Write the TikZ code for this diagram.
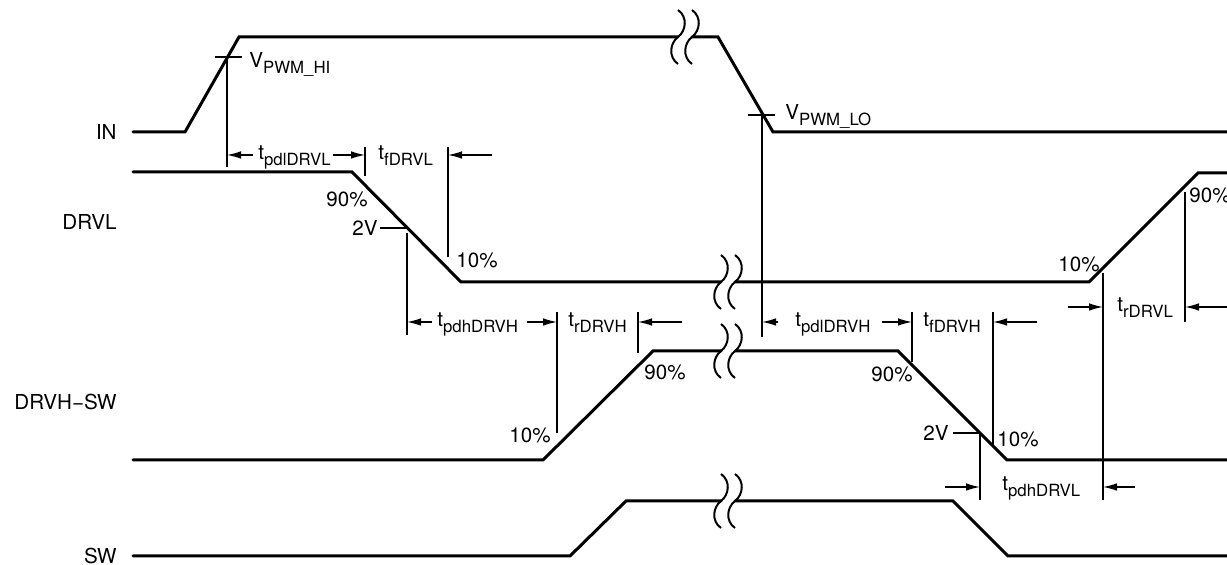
\documentclass[tikz,border=0pt]{standalone}
\usepackage{fontspec}
\setmainfont{TeX Gyre Heros}
\usetikzlibrary{arrows.meta}
\newcommand\sbs[1]{\raisebox{-2.6pt}{\fontsize{8.4}{8.4}\selectfont #1}}
\begin{document}
\begin{tikzpicture}[x=0.5pt,y=-0.5pt,
  font=\fontsize{10.3}{12}\selectfont,
  sig/.style={line width=1.5pt, line join=miter, line cap=round},
  thinln/.style={line width=0.65pt},
  dimarr/.style={line width=0.65pt, -{Latex[length=7pt,width=3.8pt]}},
  lbl/.style={inner sep=0pt},
  brkln/.style={line width=1pt},
  brkpic/.pic={
    \draw[brkln] (-7,-27) .. controls (3,-20) and (1,-6) .. (-7,0) .. controls (-15,6) and (-17,20) .. (-7,27);
    \draw[brkln] (7,-27) .. controls (17,-20) and (15,-6) .. (7,0) .. controls (-1,6) and (-3,20) .. (7,27);
  }]
\useasboundingbox (0,0) rectangle (1227,565);

% ---------- signal names ----------
\node[lbl, anchor=east] (lIN)   at (117,132) {IN};
\node[lbl, anchor=east] (lDRVL) at (117,222) {DRVL};
\node[lbl, anchor=east] (lDRVH) at (117,402) {DRVH−SW};
\node[lbl, anchor=east] (lSW)   at (117,556) {SW};

% ---------- waveforms ----------
% IN
\draw[sig] (133,132) -- (185,132) -- (239,37) -- (678,37);
\draw[sig] (692,37) -- (718,37) -- (773,132) -- (1230,132);
\pic at (685,37) {brkpic};
% DRVL
\draw[sig] (133,172) -- (352,172) -- (461,282) -- (721,282);
\draw[sig] (735,282) -- (1089,282) -- (1198,173) -- (1230,173);
\pic at (728,282) {brkpic};
% DRVH-SW
\draw[sig] (133,460) -- (543,460) -- (653,351) -- (721,351);
\draw[sig] (735,351) -- (898,351) -- (1007,460) -- (1230,460);
\pic at (728,351) {brkpic};
% SW
\draw[sig] (133,556) -- (570,556) -- (626,501) -- (721,501);
\draw[sig] (735,501) -- (953,501) -- (1008,556) -- (1230,556);
\pic at (728,501) {brkpic};

% ---------- threshold ticks and reference lines ----------
\draw[thinln] (215,57) -- (242,57);
\draw[thinln] (227,57) -- (227,167);
\node[lbl, anchor=base west] (vhi) at (249,68) {V\sbs{PWM\_HI}};

\draw[thinln] (748,115) -- (775,115);
\draw[thinln] (762,115) -- (762,337);
\node[lbl, anchor=base west] (vlo) at (785,120) {V\sbs{PWM\_LO}};

\draw[thinln] (365,147) -- (365,176);
\draw[thinln] (448,147) -- (448,257);
\draw[thinln] (380,228) -- (407,228);
\draw[thinln] (407,233) -- (407,335);
\draw[thinln] (557,312) -- (557,433);
\draw[thinln] (638,312) -- (638,353);
\draw[thinln] (912,312) -- (912,362);
\draw[thinln] (993,312) -- (993,445);
\draw[thinln] (953,433) -- (980,433);
\draw[thinln] (980,433) -- (980,500);
\draw[thinln] (1103,273) -- (1103,500);
\draw[thinln] (1185,192) -- (1185,322);

% ---------- level labels ----------
\node[lbl] (p90a) at (347,199) {90\%};
\node[lbl] (v2a)  at (365,228) {2V};
\node[lbl] (p10a) at (477,260) {10\%};
\node[lbl] (p10b) at (530,435) {10\%};
\node[lbl] (p90b) at (665,372) {90\%};
\node[lbl] (p90c) at (892,374) {90\%};
\node[lbl] (v2b)  at (936,433) {2V};
\node[lbl] (p10c) at (1018,439) {10\%};
\node[lbl] (p10d) at (1079,264) {10\%};
\node[lbl, anchor=west] (p90d) at (1189,195) {90\%};

% ---------- timing labels ----------
\node[lbl, anchor=base west] (tpdlDRVL) at (258,160) {t\sbs{pdlDRVL}};
\node[lbl, anchor=base west] (tfDRVL)   at (378,160) {t\sbs{fDRVL}};
\node[lbl, anchor=base west] (tpdhDRVH) at (437,327) {t\sbs{pdhDRVH}};
\node[lbl, anchor=base west] (trDRVH)   at (568,327) {t\sbs{rDRVH}};
\node[lbl, anchor=base west] (tpdlDRVH) at (795,327) {t\sbs{pdlDRVH}};
\node[lbl, anchor=base west] (tfDRVH)   at (923,327) {t\sbs{fDRVH}};
\node[lbl, anchor=base west] (tpdhDRVL) at (1002,491) {t\sbs{pdhDRVL}};
\node[lbl, anchor=base west] (trDRVL)   at (1117,312) {t\sbs{rDRVL}};

% ---------- dimension arrows ----------
\draw[dimarr] (253,155) -- (227,155);
\draw[dimarr] (333,155) -- (365,155);
\draw[dimarr] (492,155) -- (448,155);

\draw[dimarr] (432,322) -- (407,322);
\draw[dimarr] (527,322) -- (557,322);
\draw[dimarr] (682,322) -- (638,322);

\draw[dimarr] (778,322) -- (762,322);
\draw[dimarr] (882,322) -- (912,322);
\draw[dimarr] (1037,322) -- (993,322);

\draw[dimarr] (945,487) -- (980,487);
\draw[dimarr] (1135,487) -- (1103,487);

\draw[dimarr] (1068,307) -- (1103,307);
\draw[dimarr] (1230,307) -- (1185,307);
\end{tikzpicture}
\end{document}
